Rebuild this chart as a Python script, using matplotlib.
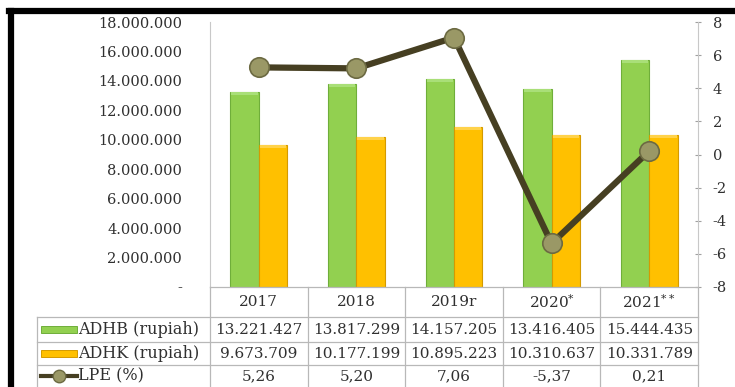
import matplotlib
matplotlib.use('Agg')
import matplotlib.pyplot as plt
from matplotlib.lines import Line2D
from matplotlib.patches import Rectangle
import numpy as np

years = ['2017', '2018', '2019r', '2020$^{*}$', '2021$^{**}$']
adhb = [13221427, 13817299, 14157205, 13416405, 15444435]
adhk = [9673709, 10177199, 10895223, 10310637, 10331789]
lpe = [5.26, 5.20, 7.06, -5.37, 0.21]
row_names = ['ADHB (rupiah)', 'ADHK (rupiah)', 'LPE (%)']

W, H = 735, 387
plt.rcParams['font.family'] = 'DejaVu Serif'
plt.rcParams['mathtext.fontset'] = 'dejavuserif'
plt.rcParams['font.size'] = 10.5
txt_col = '#303030'
grid_col = '#b8b8b8'
green, green_edge = '#92d050', '#6fae3a'
orange, orange_edge = '#ffc000', '#d49a00'
line_col = '#463f22'
mark_face, mark_edge = '#9a9866', '#6c6a42'


def fx(x):
    return x / W


def fy(y):
    return 1 - y / H


def dots(v):
    return f'{v:,}'.replace(',', '.')


def comma(v):
    return f'{v:.2f}'.replace('.', ',')


fig = plt.figure(figsize=(W / 100, H / 100), dpi=100)
ax_l, ax_r, ax_t, ax_b = 210, 698, 22, 287
ax = fig.add_axes([fx(ax_l), fy(ax_b), fx(ax_r - ax_l), (ax_b - ax_t) / H])
ax2 = ax.twinx()

x = np.arange(len(years))
bw = 0.29
b1 = ax.bar(x - bw / 2, adhb, bw, color=green, edgecolor=green_edge, linewidth=0.8, zorder=2)
b2 = ax.bar(x + bw / 2, adhk, bw, color=orange, edgecolor=orange_edge, linewidth=0.8, zorder=2)

# light bevel on top of each bar
for bars, c in ((b1, '#a9df78'), (b2, '#ffd24a')):
    for b in bars:
        ax.add_patch(Rectangle((b.get_x() + 0.01, b.get_height() - 200000), b.get_width() - 0.02,
                               200000, facecolor=c, edgecolor='none', zorder=3))

ax.set_xlim(-0.5, len(years) - 0.5)
ax.set_ylim(0, 18000000)
ticks = np.arange(0, 18000001, 2000000)
ax.set_yticks(ticks)
ax.set_yticklabels(['-'] + [dots(int(t)) for t in ticks[1:]], color=txt_col)
ax.set_xticks([])
ax.tick_params(axis='y', length=0, pad=20)
for s in ['top', 'bottom', 'right']:
    ax.spines[s].set_visible(False)
ax.spines['left'].set_color('#c8c8c8')

ax2.plot(x, lpe, color=line_col, lw=4.5, marker='o', ms=14,
         mfc=mark_face, mec=mark_edge, mew=1.2, zorder=5)
ax2.set_ylim(-8, 8)
ax2.set_yticks(np.arange(-8, 9, 2))
ax2.set_yticklabels([str(t) for t in range(-8, 9, 2)], color=txt_col)
ax2.tick_params(axis='y', length=5, direction='inout', color='#a0a0a0', pad=8)
for s in ['top', 'bottom', 'left']:
    ax2.spines[s].set_visible(False)
ax2.spines['right'].set_color('#c8c8c8')
ax2.set_zorder(ax.get_zorder() + 1)
ax2.patch.set_visible(False)

# data table
col_w = (ax_r - ax_l) / len(years)
col_x = [ax_l + i * col_w for i in range(len(years) + 1)]
rows_y = [287, 317, 342, 365, 387]
tab_left = 37


def hline(y, x0, x1):
    fig.add_artist(Line2D([fx(x0), fx(x1)], [fy(y), fy(y)], color=grid_col, lw=0.9))


def vline(xp, y0, y1):
    fig.add_artist(Line2D([fx(xp), fx(xp)], [fy(y0), fy(y1)], color=grid_col, lw=0.9))


hline(rows_y[0], ax_l, ax_r)
for y in rows_y[1:4]:
    hline(y, tab_left, ax_r)
for xp in col_x:
    vline(xp, rows_y[0], H)
vline(tab_left, rows_y[1], H)

fs = 11
for i, yr in enumerate(years):
    cx = (col_x[i] + col_x[i + 1]) / 2
    fig.text(fx(cx), fy((rows_y[0] + rows_y[1]) / 2), yr, ha='center', va='center',
             fontsize=fs, color=txt_col)
    fig.text(fx(cx), fy((rows_y[1] + rows_y[2]) / 2), dots(adhb[i]), ha='center', va='center',
             fontsize=fs, color=txt_col)
    fig.text(fx(cx), fy((rows_y[2] + rows_y[3]) / 2), dots(adhk[i]), ha='center', va='center',
             fontsize=fs, color=txt_col)
    fig.text(fx(cx), fy((rows_y[3] + rows_y[4]) / 2), comma(lpe[i]), ha='center', va='center',
             fontsize=fs, color=txt_col)

for r, name in enumerate(row_names):
    yc = (rows_y[r + 1] + rows_y[r + 2]) / 2
    fig.text(fx(78), fy(yc), name, ha='left', va='center', fontsize=11.5, color=txt_col)

# legend keys inside table
for r, (c, ec) in enumerate(((green, green_edge), (orange, orange_edge))):
    yc = (rows_y[r + 1] + rows_y[r + 2]) / 2
    fig.add_artist(Rectangle((fx(41), fy(yc + 3.5)), fx(36), 7 / H, facecolor=c,
                             edgecolor=ec, lw=0.7))
yc = (rows_y[3] + rows_y[4]) / 2
fig.add_artist(Line2D([fx(41), fx(77)], [fy(yc), fy(yc)], color=line_col, lw=3))
fig.add_artist(Line2D([fx(59)], [fy(yc)], marker='o', ms=9, mfc=mark_face, mec=mark_edge,
                      mew=1))

# black frame (left and top visible)
fig.add_artist(Line2D([fx(11), fx(11)], [fy(11), 0], color='black', lw=4.5))
fig.add_artist(Line2D([fx(9), 1], [fy(11), fy(11)], color='black', lw=4.5))

fig.savefig('out.png', dpi=100)
